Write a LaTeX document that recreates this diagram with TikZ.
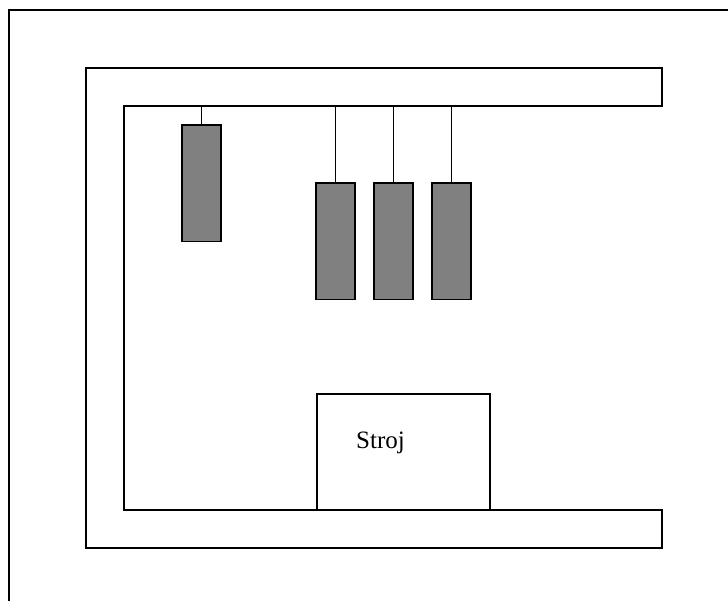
\documentclass[tikz,border=0pt]{standalone}
\usepackage{fontspec}
\setmainfont{Liberation Serif}
\begin{document}
\begin{tikzpicture}[x=1pt,y=-1pt,
  wall/.style={draw=black,line width=1.6pt,fill=white},
  unit/.style={draw=black,line width=1.6pt,fill=black!50,inner sep=0pt,outer sep=0pt,
    minimum width=39pt,minimum height=116.5pt,anchor=north},
  hanger/.style={draw=black,line width=1.6pt},
  machine/.style={draw=black,line width=1.6pt,fill=white,inner sep=0pt,outer sep=0pt,
    minimum width=173pt,minimum height=116pt,anchor=north west}]
\useasboundingbox (0,0) rectangle (728,600);
\clip (0,0) rectangle (728,600);
% page frame, running off the right and bottom edges
\draw[line width=1.6pt] (9,640) -- (9,10) -- (760,10);
% C-shaped rail
\draw[wall] (662,68) -- (86,68) -- (86,548) -- (662,548) -- (662,510)
  -- (124,510) -- (124,106) -- (662,106) -- cycle;
% hanging units and their suspension points on the rail
\node[unit] (u1) at (201.5,125) {};
\node[unit] (u2) at (335.5,183) {};
\node[unit] (u3) at (393.5,183) {};
\node[unit] (u4) at (451.5,183) {};
\foreach \i/\x in {1/201.5,2/335.5,3/393.5,4/451.5}
  \coordinate (h\i) at (\x,106);
\foreach \i in {1,2,3,4} \draw[hanger] (h\i) -- (u\i.north);
% machine
\node[machine] (machine) at (317,394) {};
\node[anchor=base west,inner sep=0pt,font=\fontsize{25}{30}\selectfont] (stroj) at (356,448) {Stroj};
\end{tikzpicture}
\end{document}
